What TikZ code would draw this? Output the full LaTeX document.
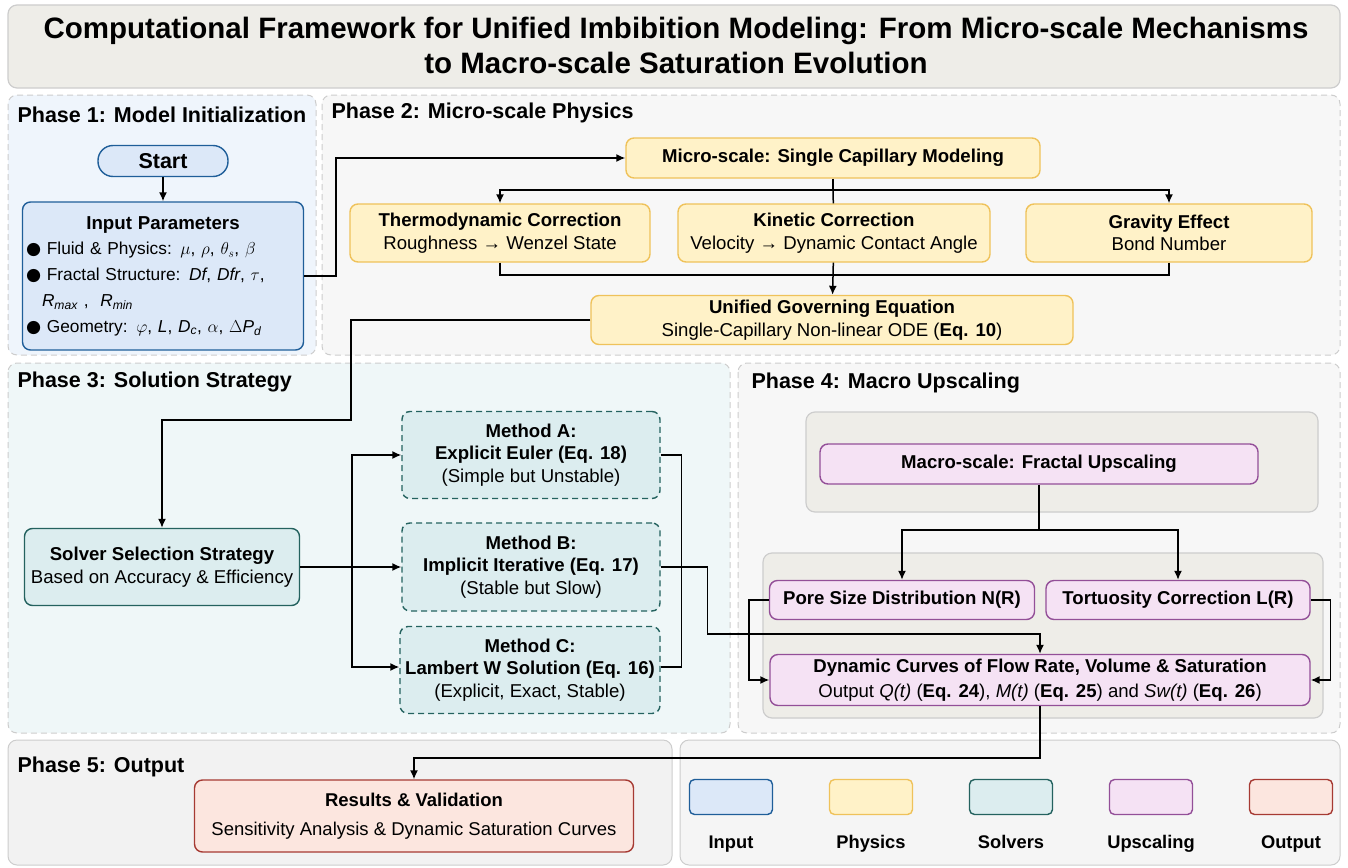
\documentclass[tikz,border=0pt]{standalone}
\usepackage{fontspec}
\setmainfont{Liberation Sans}
\newfontfamily\symf{DejaVu Sans}
\usetikzlibrary{arrows.meta,positioning}
\definecolor{inpF}{HTML}{DCE8F8}\definecolor{inpD}{HTML}{1F5E99}
\definecolor{phyF}{HTML}{FFF2C8}\definecolor{phyD}{HTML}{EFC25A}
\definecolor{solF}{HTML}{DCEDEF}\definecolor{solD}{HTML}{24625F}
\definecolor{upsF}{HTML}{F5E2F4}\definecolor{upsD}{HTML}{934F98}
\definecolor{outF}{HTML}{FCE6DF}\definecolor{outD}{HTML}{A63A33}
\definecolor{panD}{HTML}{CDCDCD}\definecolor{beige}{HTML}{EEEDE8}

\begin{document}
\begin{tikzpicture}[x=1pt,y=-1pt,
box/.style={draw,rounded corners=8pt,line width=1.4pt,align=center,inner sep=1pt,font=\fontsize{18.6}{22.5}\selectfont},
inp/.style={box,fill=inpF,draw=inpD},phy/.style={box,fill=phyF,draw=phyD},
sol/.style={box,fill=solF,draw=solD},meth/.style={sol,dashed,dash pattern=on 6pt off 4pt},
ups/.style={box,fill=upsF,draw=upsD},outp/.style={box,fill=outF,draw=outD},
panel/.style={draw=panD,line width=1pt,dashed,dash pattern=on 6pt off 4pt,rounded corners=9pt},
grp/.style={draw=panD,fill=beige,line width=1.2pt,rounded corners=9pt},
phase/.style={anchor=west,font=\fontsize{21.5}{25}\selectfont\bfseries},
arr/.style={line width=1.5pt,-{Latex[length=9pt,width=8pt]}},ln/.style={line width=1.5pt}]
\useasboundingbox (0,0) rectangle (1348,867);
% panels
\draw[grp] (8,5) rectangle (1340,88);
\draw[panel,fill=inpF!45] (8,95) rectangle (316,355);
\draw[panel,fill=black!3] (322,95) rectangle (1340,355);
\draw[panel,fill=solF!45] (8,363) rectangle (730,733);
\draw[panel,fill=black!3] (738,363) rectangle (1340,733);
\draw[draw=panD,line width=1pt,fill=black!5,rounded corners=9pt] (8,740) rectangle (672,865);
\draw[draw=panD,line width=1pt,fill=black!4,rounded corners=9pt] (680,740) rectangle (1340,865);
\draw[grp] (806,412) rectangle (1318,512);
\draw[grp] (763,553) rectangle (1323,718);
\node[align=center,font=\fontsize{29.5}{35}\selectfont\bfseries] (title) at (676,45) {Computational Framework for Unified Imbibition Modeling: From Micro-scale Mechanisms\\to Macro-scale Saturation Evolution};
\node[phase] (p1) at (14,115) {Phase 1: Model Initialization};
\node[phase] (p2) at (328,113) {Phase 2: Micro-scale Physics};
\node[phase] (p3) at (14,382) {Phase 3: Solution Strategy};
\node[phase] (p4) at (748,383) {Phase 4: Macro Upscaling};
\node[phase] (p5) at (14,767) {Phase 5: Output};
% phase 1
\node[inp,rounded corners=15pt,minimum width=130pt,minimum height=31pt,font=\fontsize{21.5}{24}\selectfont\bfseries] (start) at (163,161) {Start};
\node[inp,minimum width=281pt,minimum height=148pt,text width=274pt,align=left,font=\fontsize{17.3}{25.8}\selectfont] (inp) at (163,276) {\makebox[\linewidth]{\fontsize{18.7}{25.8}\selectfont\bfseries Input Parameters}\\
{\symf ●} Fluid \& Physics: $\mu$, $\rho$, $\theta_s$, $\beta$\\
{\symf ●} Fractal Structure: \textit{Df}, \textit{Dfr}, $\tau$,\\
\hspace*{16pt}\textit{R}\textsubscript{\textit{max}} ,\ \ \textit{R}\textsubscript{\textit{min}}\\
{\symf ●} Geometry: $\varphi$, \textit{L}, \textit{D}\textsubscript{\textit{c}}, $\alpha$, $\Delta$\textit{P}\textsubscript{\textit{d}}};
% phase 2
\node[phy,minimum width=414pt,minimum height=40pt] (micro) at (833,158) {\textbf{Micro-scale: Single Capillary Modeling}};
\node[phy,minimum width=300pt,minimum height=58pt] (thermo) at (500,233) {\textbf{Thermodynamic Correction}\\Roughness → Wenzel State};
\node[phy,minimum width=312pt,minimum height=58pt] (kin) at (834,233) {\textbf{Kinetic Correction}\\Velocity → Dynamic Contact Angle};
\node[phy,minimum width=286pt,minimum height=58pt] (grav) at (1169,233) {\textbf{Gravity Effect}\\Bond Number};
\node[phy,minimum width=482pt,minimum height=49pt] (unif) at (832,320) {\textbf{Unified Governing Equation}\\Single-Capillary Non-linear ODE (\textbf{Eq. 10})};
% phase 3
\node[sol,minimum width=275pt,minimum height=77pt] (solver) at (162,567) {\textbf{Solver Selection Strategy}\\Based on Accuracy \& Efficiency};
\node[meth,minimum width=258pt,minimum height=87pt] (mA) at (531,455) {\textbf{Method A:}\\\textbf{Explicit Euler (Eq. 18)}\\(Simple but Unstable)};
\node[meth,minimum width=258pt,minimum height=88pt] (mB) at (531,567) {\textbf{Method B:}\\\textbf{Implicit Iterative (Eq. 17)}\\(Stable but Slow)};
\node[meth,minimum width=260pt,minimum height=87pt] (mC) at (530,670) {\textbf{Method C:}\\\textbf{Lambert W Solution (Eq. 16)}\\(Explicit, Exact, Stable)};
% phase 4
\node[ups,minimum width=438pt,minimum height=40pt] (macro) at (1039,464) {\textbf{Macro-scale: Fractal Upscaling}};
\node[ups,minimum width=265pt,minimum height=39pt] (pore) at (902,600) {\textbf{Pore Size Distribution N(R)}};
\node[ups,minimum width=264pt,minimum height=39pt] (tort) at (1178,600) {\textbf{Tortuosity Correction L(R)}};
\node[ups,minimum width=540pt,minimum height=51pt,font=\fontsize{18.6}{24.5}\selectfont] (dyn) at (1040,680) {\textbf{Dynamic Curves of Flow Rate, Volume \& Saturation}\\Output \textit{Q(t)} (\textbf{Eq. 24}), \textit{M(t)} (\textbf{Eq. 25}) and \textit{Sw(t)} (\textbf{Eq. 26})};
% phase 5
\node[outp,minimum width=439pt,minimum height=72pt,font=\fontsize{18.5}{29}\selectfont] (res) at (414,816) {\textbf{Results \& Validation}\\Sensitivity Analysis \& Dynamic Saturation Curves};
% legend
\foreach \nm/\st/\xx/\tx in {lgIn/inp/731/Input,lgPhy/phy/871/Physics,lgSol/sol/1011/Solvers,lgUps/ups/1151/Upscaling,lgOut/outp/1291/Output}{
\node[\st,rounded corners=5pt,minimum width=83pt,minimum height=35pt] (\nm) at (\xx,797) {};
\node[anchor=base,font=\fontsize{18.3}{20}\selectfont\bfseries] (\nm-t) at (\xx,848) {\tx};}
% connectors
\coordinate (s1) at (833,190);\coordinate (m1) at (832,275);\coordinate (c1) at (351,420);
\coordinate (sp) at (352,567);\coordinate (c2) at (1040,634);\coordinate (c3) at (1039,530);
\draw[arr](start)--(inp);\draw[arr](inp.east)--++(32,0)|-(micro.west);
\draw[ln](micro)--(s1);\draw[arr](s1)-|(thermo);\draw[arr](s1)-|(grav);\draw[arr](kin)--(unif);
\draw[ln](s1)--(kin);
\draw[ln](thermo)|-(m1);\draw[ln](grav)|-(m1);
\draw[arr](unif.west)-|(c1)-|(solver.north);
\draw[ln](solver.east)--(sp);\draw[arr](sp)|-(mA.west);\draw[arr](sp)--(mB.west);\draw[arr](sp)|-([yshift=3pt]mC.west);
\draw[ln](mA.east)--++(21,0)|-([yshift=3pt]mC.east);
\draw[arr](mB.east)--++(47,0)|-(c2)--(dyn.north);
\draw[ln](macro)--(c3);\draw[arr](c3)-|(pore);\draw[arr](c3)-|(tort);
\draw[arr](pore.west)--++(-20,0)|-(dyn.west);\draw[arr](tort.east)--++(20,0)|-(dyn.east);
\draw[arr](dyn.south)--++(0,52)-|(res.north);
\end{tikzpicture}
\end{document}
